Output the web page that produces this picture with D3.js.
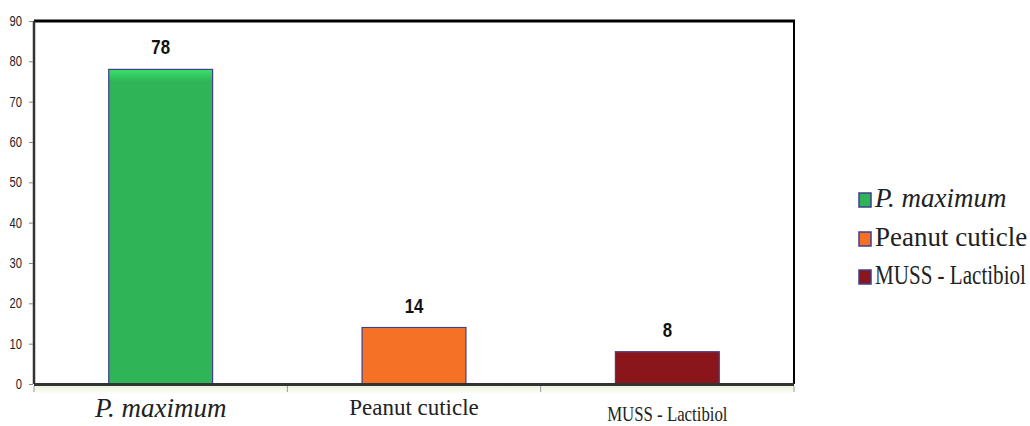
<!DOCTYPE html>
<html>
<head>
<meta charset="utf-8">
<script src="https://cdn.jsdelivr.net/npm/d3@7"></script>
<style>
html,body{margin:0;padding:0;background:#fff;}
svg{display:block;}
</style>
</head>
<body>
<svg id="chart" width="1030" height="426"></svg>
<script>
const categories = ["P. maximum", "Peanut cuticle", "MUSS - Lactibiol"];
const values = [78, 14, 8];
const colors = ["#2fb457", "#f47125", "#8a161b"];
const yTicks = [0, 10, 20, 30, 40, 50, 60, 70, 80, 90];

const svg = d3.select("#chart");
const L = 34, R = 794, T = 21, B = 384;
const SANS = "'Liberation Sans',Arial,sans-serif";
const SERIF = "'Liberation Serif','Times New Roman',serif";

const x = d3.scaleBand().domain(categories).range([L, R]).paddingInner(0.59).paddingOuter(0.295);
const band = d3.scaleBand().domain(categories).range([L, R]);
const y = d3.scaleLinear().domain([0, 90]).range([B, T]);

const defs = svg.append("defs");
colors.forEach((c, i) => {
  const g = defs.append("linearGradient").attr("id", "g" + i).attr("x1", 0).attr("y1", 0).attr("x2", 0).attr("y2", 1);
  g.append("stop").attr("offset", "0%").attr("stop-color", d3.color(c).brighter(0.6));
  g.append("stop").attr("offset", "4%").attr("stop-color", c);
  g.append("stop").attr("offset", "100%").attr("stop-color", c);
});
const fl = defs.append("linearGradient").attr("id", "floor").attr("x1", 0).attr("y1", 0).attr("x2", 0).attr("y2", 1);
fl.append("stop").attr("offset", "0%").attr("stop-color", "#e9f2d9");
fl.append("stop").attr("offset", "100%").attr("stop-color", "#ffffff");

// floor band
svg.append("rect").attr("x", L).attr("y", B + 1).attr("width", R - L).attr("height", 9).attr("fill", "url(#floor)");

// frame
svg.append("line").attr("x1", L).attr("x2", R + 1).attr("y1", T).attr("y2", T).attr("stroke", "#000").attr("stroke-width", 3);
svg.append("line").attr("x1", R).attr("x2", R).attr("y1", T).attr("y2", B).attr("stroke", "#000").attr("stroke-width", 2);
svg.append("line").attr("x1", L).attr("x2", L).attr("y1", T).attr("y2", B).attr("stroke", "#333").attr("stroke-width", 2.5);

// y axis ticks
const sxTick = 0.8;
const yAxis = d3.axisLeft(y).tickValues(yTicks).tickSize(4).tickPadding(7);
const ya = svg.append("g").attr("transform", `translate(${L - 1},0)`).call(yAxis);
ya.select(".domain").remove();
ya.selectAll(".tick line").attr("stroke", "#888");
ya.selectAll(".tick text")
  .attr("font-family", SANS).attr("font-size", 14).attr("fill", "#222")
  .attr("x", -11 / sxTick)
  .attr("transform", `scale(${sxTick},1)`);

// bars
svg.selectAll("rect.bar").data(values).join("rect").attr("class", "bar")
  .attr("x", (d, i) => x(categories[i]))
  .attr("y", d => y(d))
  .attr("width", x.bandwidth())
  .attr("height", d => B - y(d))
  .attr("fill", (d, i) => `url(#g${i})`)
  .attr("stroke", "#3f3f8c").attr("stroke-width", 1.2);

// zero line
svg.append("line").attr("x1", L).attr("x2", R).attr("y1", B + 0.5).attr("y2", B + 0.5).attr("stroke", "#333").attr("stroke-width", 3);

// x category ticks
const xTickPos = categories.map(c => band(c)).concat([band(categories[2]) + band.bandwidth()]);
svg.selectAll("line.xt").data(xTickPos).join("line").attr("class", "xt")
  .attr("x1", d => d).attr("x2", d => d).attr("y1", B + 2).attr("y2", B + 8).attr("stroke", "#999").attr("stroke-width", 1);

// value labels
svg.selectAll("text.val").data(values).join("text").attr("class", "val")
  .attr("transform", (d, i) => `translate(${x(categories[i]) + x.bandwidth() / 2},${y(d) - 15}) scale(0.8,1)`)
  .attr("text-anchor", "middle")
  .attr("font-family", SANS)
  .attr("font-weight", "bold").attr("font-size", 21).attr("fill", "#111")
  .text(d => d);

// category labels
const catStyle = [
  {size: 27, italic: true, dy: 417, sx: 1},
  {size: 23, italic: false, dy: 415, sx: 1},
  {size: 20.5, italic: false, dy: 421, sx: 0.82}
];
categories.forEach((c, i) => {
  const cx = band(c) + band.bandwidth() / 2;
  svg.append("text")
    .attr("transform", `translate(${cx},${catStyle[i].dy}) scale(${catStyle[i].sx},1)`)
    .attr("text-anchor", "middle")
    .attr("font-family", SERIF)
    .attr("font-style", catStyle[i].italic ? "italic" : "normal")
    .attr("font-size", catStyle[i].size).attr("fill", "#222")
    .text(c);
});

// legend
const legSx = [1, 1, 0.78];
const legY = [207, 246, 284];
categories.forEach((c, i) => {
  svg.append("rect").attr("x", 859).attr("y", legY[i] - 14).attr("width", 12).attr("height", 14)
    .attr("fill", `url(#g${i})`).attr("stroke", "#3f3f8c").attr("stroke-width", 1.5);
  svg.append("text")
    .attr("transform", `translate(875,${legY[i]}) scale(${legSx[i]},1)`)
    .attr("font-family", SERIF)
    .attr("font-style", i === 0 ? "italic" : "normal")
    .attr("font-size", 27).attr("fill", "#222")
    .text(c);
});
</script>
</body>
</html>
